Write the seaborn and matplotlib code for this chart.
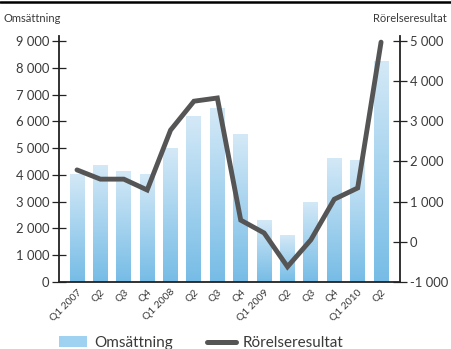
import numpy as np
import pandas as pd
import seaborn as sns
import matplotlib
matplotlib.use("Agg")
import matplotlib.pyplot as plt
from matplotlib.lines import Line2D
from matplotlib.patches import Patch
from matplotlib.ticker import FuncFormatter, FixedLocator
from matplotlib.colors import LinearSegmentedColormap

quarters = ["Q1 2007", "Q2", "Q3", "Q4", "Q1 2008", "Q2", "Q3", "Q4",
            "Q1 2009", "Q2", "Q3", "Q4", "Q1 2010", "Q2"]
omsattning = [4050, 4370, 4140, 4030, 5000, 6190, 6490, 5520,
              2310, 1750, 2990, 4630, 4550, 8250]
rorelseresultat = [1790, 1560, 1560, 1290, 2780, 3500, 3580, 540,
                   220, -620, 50, 1060, 1340, 4970]
left_ticks = [0, 1000, 2000, 3000, 4000, 5000, 6000, 7000, 8000, 9000]
right_ticks = [-1000, 0, 1000, 2000, 3000, 4000, 5000]

sns.set_style("white")
plt.rcParams['font.family'] = ['Lato', 'DejaVu Sans']
TXT = "#3a3a3a"

df = pd.DataFrame({"q": range(len(quarters)), "oms": omsattning, "ror": rorelseresultat})

fig = plt.figure(figsize=(4.51, 3.49), dpi=100)
ax = fig.add_axes([59/451, 1-282/349, (400-59)/451, (282-35.6)/349])
ax2 = ax.twinx()

sns.barplot(data=df, x="q", y="oms", ax=ax, color="#8cc8ec", width=0.64,
            saturation=1, native_scale=True, zorder=2)

# gradient fill inside bars (light at top, darker at bottom)
cmap = LinearSegmentedColormap.from_list("g", ["#76bce6", "#d4e9f7"])
grad = np.linspace(0, 1, 256).reshape(-1, 1)
for p in ax.patches:
    x0, y0 = p.get_x(), p.get_y()
    w, h = p.get_width(), p.get_height()
    im = ax.imshow(grad, extent=[x0, x0 + w, y0, y0 + h], origin="lower",
                   cmap=cmap, aspect="auto", zorder=2.5)
    im.set_clip_path(p)

sns.lineplot(data=df, x="q", y="ror", ax=ax2, color="#555555", linewidth=3.5,
             zorder=5, solid_joinstyle="miter", solid_capstyle="round")

ax.set_xlim(-0.77, 13.81)
ax.set_ylim(0, 9200)
ax2.set_ylim(-1000, 5133)

fmt = FuncFormatter(lambda v, p: f"{int(v):,}".replace(",", " "))
ax.yaxis.set_major_locator(FixedLocator(left_ticks))
ax.yaxis.set_major_formatter(fmt)
ax2.yaxis.set_major_locator(FixedLocator(right_ticks))
ax2.yaxis.set_major_formatter(fmt)

ax.set_xticks(range(len(quarters)))
ax.set_xticklabels(quarters, rotation=45, ha="right", rotation_mode="anchor",
                   fontsize=7.4, color=TXT)
ax.tick_params(axis="x", length=0, pad=4)
ax.set_xticks([3.5, 7.5, 11.5], minor=True)
ax.tick_params(axis="x", which="minor", direction="in", length=4, width=0.9, color="#222222")

ax.tick_params(axis="y", direction="inout", length=10, width=0.9, color="#222222",
               labelsize=9.4, labelcolor=TXT, pad=2)
ax2.tick_params(axis="y", direction="inout", length=10, width=0.9, color="#222222",
                labelsize=9.4, labelcolor=TXT, pad=2)

for a in (ax, ax2):
    a.set_xlabel("")
    a.set_ylabel("")
    a.spines["top"].set_visible(False)
    a.grid(False)
ax.spines["right"].set_visible(False)
ax2.spines["left"].set_visible(False)
ax2.spines["bottom"].set_visible(False)
for s in ("left", "bottom"):
    ax.spines[s].set_color("#222222")
    ax.spines[s].set_linewidth(1.3)
ax2.spines["right"].set_color("#222222")
ax2.spines["right"].set_linewidth(1.3)
ax2.set_zorder(ax.get_zorder() + 1)
ax2.patch.set_visible(False)

fig.text(3/451, 1-19/349, "Omsättning", fontsize=8, color=TXT, va="center", ha="left")
fig.text(447/451, 1-19/349, "Rörelseresultat", fontsize=8, color=TXT, va="center", ha="right")

fig.add_artist(Line2D([0, 1], [1-2/349, 1-2/349], color="black", linewidth=1.8,
                      transform=fig.transFigure))

handles = [Patch(facecolor="#9fd2f0", edgecolor="none"),
           Line2D([0], [0], color="#555555", linewidth=3.6)]
fig.legend(handles, ["Omsättning", "Rörelseresultat"], loc="center left",
           bbox_to_anchor=(59/451, 1-343/349), ncol=2, frameon=False,
           fontsize=11, handlelength=1.85, handleheight=0.75, columnspacing=2.25,
           handletextpad=0.45, labelcolor=TXT, borderaxespad=0, borderpad=0)

fig.savefig("out.png", dpi=100)
